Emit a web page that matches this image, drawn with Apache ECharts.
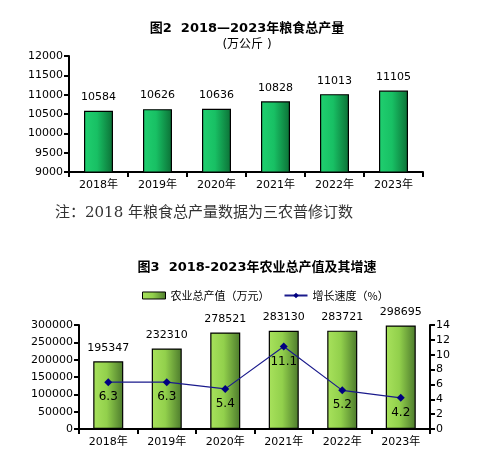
<!DOCTYPE html>
<html><head><meta charset="utf-8">
<script src="https://cdn.jsdelivr.net/npm/echarts@6/dist/echarts.min.js"></script>
<style>html,body{margin:0;padding:0;background:#fff}#c{width:484px;height:474px}</style>
</head><body><div id="c"></div>
<script>
const years = ['2018年','2019年','2020年','2021年','2022年','2023年'];
const grainOutput = [10584, 10626, 10636, 10828, 11013, 11105];
const agriValue = [195347, 232310, 278521, 283130, 283721, 298695];
const growthRate = [6.3, 6.3, 5.4, 11.1, 5.2, 4.2];

const font = 'DejaVu Sans, "Noto Sans CJK SC", sans-serif';
const cjkFont = '"Noto Sans CJK SC", sans-serif';
const axisLine = {show:true, lineStyle:{color:'#000', width:2}};
const axisTick = {show:true, length:5, lineStyle:{color:'#000', width:2}};
const lbl = {color:'#000', fontSize:11, fontFamily:font};
const plain = v => String(v);

const chart = echarts.init(document.getElementById('c'));
chart.setOption({
  animation:false,
  textStyle:{fontFamily:font},
  title:[
    {text:'图2  2018—2023年粮食总产量', left:242, textAlign:'center', top:17,
     textStyle:{fontSize:13, fontWeight:'bold', color:'#000', fontFamily:font}},
    {text:'(万公斤 )', left:242, textAlign:'center', top:34,
     textStyle:{fontSize:12, fontWeight:'normal', color:'#000', fontFamily:font}},
    {text:'图3  2018-2023年农业总产值及其增速', left:252, textAlign:'center', top:256,
     textStyle:{fontSize:13, fontWeight:'bold', color:'#000', fontFamily:font}}
  ],
  graphic:[
    {type:'text', left:55, top:206, style:{text:'注：2018 年粮食总产量数据为三农普修订数',
      fontSize:15, fill:'#333', fontFamily:'"DejaVu Serif", "Noto Sans CJK SC", serif'}}
  ],
  legend:{
    top:285, left:137, itemWidth:23, itemHeight:7, itemGap:14,
    textStyle:{fontSize:11, color:'#000', fontFamily:cjkFont},
    data:[
      {name:'农业总产值（万元）', icon:'rect', itemStyle:{borderColor:'#000', borderWidth:1}},
      {name:'增长速度（%）'}
    ]
  },
  grid:[
    {left:69, top:56, width:354, height:116},
    {left:79, top:325, width:351, height:104}
  ],
  xAxis:[
    {type:'category', gridIndex:0, data:years, axisLine, axisTick,
     axisLabel:{...lbl, margin:8}},
    {type:'category', gridIndex:1, data:years, axisLine, axisTick,
     axisLabel:{...lbl, margin:8}}
  ],
  yAxis:[
    {type:'value', gridIndex:0, min:9000, max:12000, interval:500, axisLine, axisTick,
     splitLine:{show:false}, axisLabel:{...lbl, margin:6, formatter:plain}},
    {type:'value', gridIndex:1, min:0, max:300000, interval:50000, axisLine, axisTick,
     splitLine:{show:false}, axisLabel:{...lbl, margin:6, formatter:plain}},
    {type:'value', gridIndex:1, position:'right', min:0, max:14, interval:2, axisLine, axisTick,
     splitLine:{show:false}, axisLabel:{...lbl, margin:6, formatter:plain}}
  ],
  series:[
    {type:'bar', xAxisIndex:0, yAxisIndex:0, data:grainOutput, barWidth:29,
     itemStyle:{borderColor:'#000', borderWidth:1.2,
       color:new echarts.graphic.LinearGradient(0,0,1,0,[{offset:0,color:'#20d070'},{offset:0.45,color:'#18c064'},{offset:1,color:'#0c7036'}])},
     label:{show:true, position:'top', distance:8, ...lbl}},
    {type:'bar', name:'农业总产值（万元）', xAxisIndex:1, yAxisIndex:1, data:agriValue, barWidth:30,
     itemStyle:{borderColor:'#000', borderWidth:1.2,
       color:new echarts.graphic.LinearGradient(0,0,1,0,[{offset:0,color:'#a8e25c'},{offset:0.45,color:'#92d04c'},{offset:1,color:'#4c7a2c'}])},
     label:{show:true, position:'top', distance:8, ...lbl}},
    {type:'line', name:'增长速度（%）', xAxisIndex:1, yAxisIndex:2, data:growthRate,
     symbol:'diamond', symbolSize:8, z:5,
     lineStyle:{color:'#1a1a8c', width:1.2}, itemStyle:{color:'#000080'},
     label:{show:true, position:'bottom', distance:5, ...lbl, fontSize:12}}
  ]
});
</script></body></html>
